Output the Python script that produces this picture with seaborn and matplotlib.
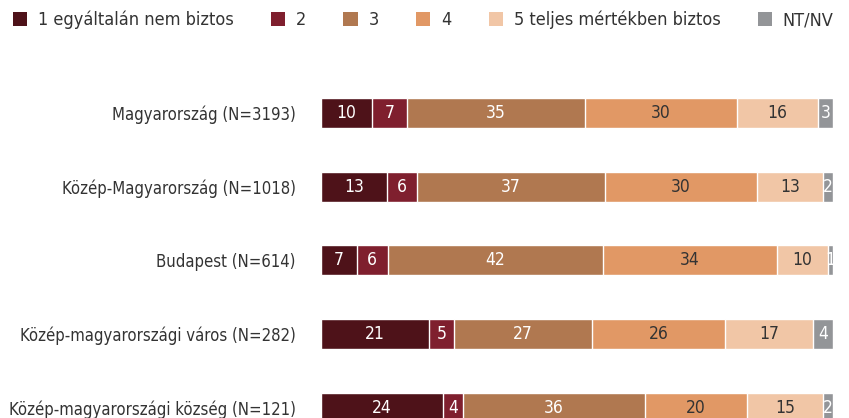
import numpy as np
import pandas as pd
import seaborn as sns
import matplotlib.pyplot as plt
from matplotlib.patches import Patch

regions = [
    "Magyarország (N=3193)",
    "Közép-Magyarország (N=1018)",
    "Budapest (N=614)",
    "Közép-magyarországi város (N=282)",
    "Közép-magyarországi község (N=121)",
]
answers = ["1 egyáltalán nem biztos", "2", "3", "4", "5 teljes mértékben biztos", "NT/NV"]
v1 = [10, 13, 7, 21, 24]
v2 = [7, 6, 6, 5, 4]
v3 = [35, 37, 42, 27, 36]
v4 = [30, 30, 34, 26, 20]
v5 = [16, 13, 10, 17, 15]
nt = [3, 2, 1, 4, 2]

colors = ["#4e1219", "#7f1f2e", "#b07850", "#e19865", "#f1c6a6", "#939598"]
text_colors = ["white", "white", "white", "#333333", "#333333", "white"]


def main():
    sns.set_theme(style="white")
    plt.rcParams["font.family"] = ["DejaVu Sans"]
    plt.rcParams["font.stretch"] = "condensed"

    vals = np.array([v1, v2, v3, v4, v5, nt], dtype=float)
    # bars in the source are stretched to full width
    shares = vals / vals.sum(axis=0) * 100
    cum = np.cumsum(shares, axis=0)

    fig = plt.figure(figsize=(8.49, 4.18), dpi=100)
    ax = fig.add_axes([321 / 849, 0.0, (833 - 321) / 849, 1 - 60 / 418])

    # stacked bars: draw cumulative totals from the outermost inwards
    for k in range(len(answers) - 1, -1, -1):
        df = pd.DataFrame({"region": regions, "cum": cum[k]})
        sns.barplot(data=df, y="region", x="cum", order=regions, color=colors[k],
                    saturation=1, width=0.41, ax=ax, orient="y")

    for k in range(len(answers)):
        left = cum[k] - shares[k]
        for i in range(len(regions)):
            ax.text(left[i] + shares[k][i] / 2, i, f"{int(vals[k][i])}",
                    ha="center", va="center", fontsize=12.5, color=text_colors[k])

    ax.set_xlim(0, 100)
    ax.set_ylim(4.14, -0.72)
    ax.set_xlabel("")
    ax.set_ylabel("")
    ax.set_xticks([])
    ax.tick_params(axis="y", length=0, pad=18, labelsize=12, labelcolor="#333333")
    sns.despine(ax=ax, left=True, bottom=True)

    handles = [Patch(facecolor=c, edgecolor="none") for c in colors]
    fig.legend(handles, answers, loc="upper left", bbox_to_anchor=(-0.004, 1.013),
               ncol=6, frameon=False, fontsize=13, handlelength=0.8, handleheight=0.8,
               handletextpad=0.6, columnspacing=2.05, labelcolor="#333333")

    fig.savefig("out.png", dpi=100)


if __name__ == "__main__":
    main()
